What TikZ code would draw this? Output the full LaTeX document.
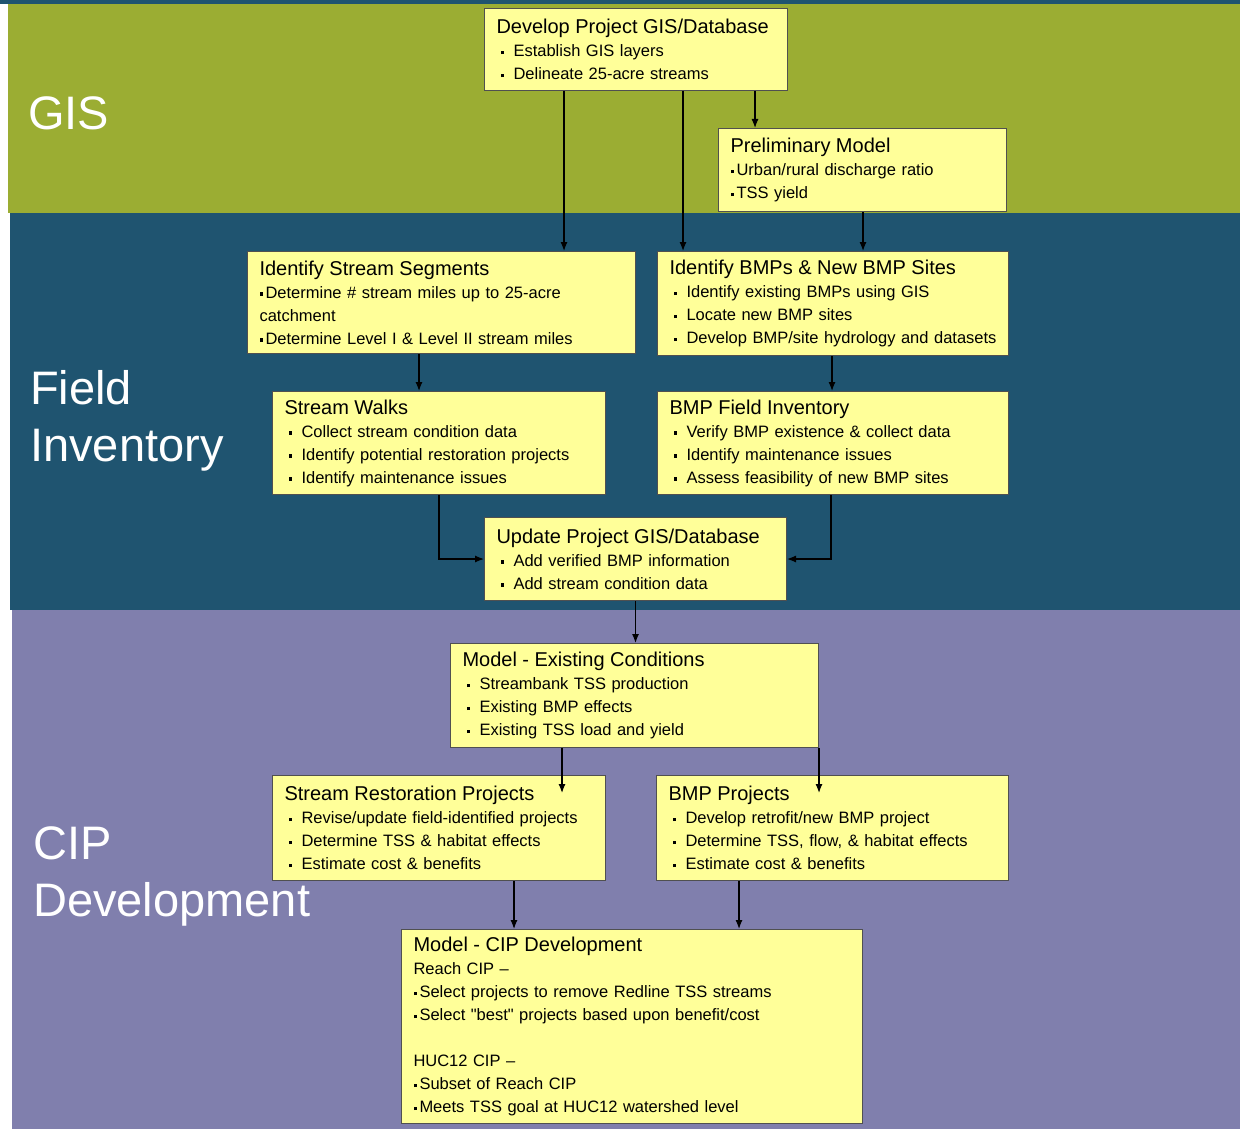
\documentclass[tikz,border=0pt]{standalone}
\usepackage{fontspec}
\setmainfont{Liberation Sans}
\usetikzlibrary{arrows.meta}

\definecolor{gisgreen}{HTML}{9BAD33}
\definecolor{fieldteal}{HTML}{1F5470}
\definecolor{cippurple}{HTML}{807FAD}
\definecolor{boxfill}{HTML}{FFFF99}
\definecolor{boxline}{HTML}{505050}

\newcommand{\sqmark}{\rule[2.5pt]{3pt}{3.5pt}}
\newcommand{\bul}{\hspace*{4pt}\sqmark\hspace{10pt}}
\newcommand{\tbul}{\sqmark\hspace{3pt}}
\newcommand{\ttl}[1]{{\fontsize{20}{23}\selectfont #1}}

\begin{document}
\begin{tikzpicture}[x=1pt,y=-1pt,
    box/.style={draw=boxline, line width=1pt, fill=boxfill, anchor=north west,
      inner xsep=12pt, inner ysep=4pt, align=left, font=\fontsize{16.5}{23}\selectfont},
    band/.style={text=white, anchor=north west, inner sep=0pt, align=left,
      font=\fontsize{47}{57}\selectfont},
    arr/.style={line width=1.2pt, -{Latex[length=9pt,width=7pt]}}]

  % Bands
  \useasboundingbox (0,0) rectangle (1240,1129);
  \fill[white] (0,0) rectangle (1240,1129);
  \fill[fieldteal] (0,0) rectangle (1240,4);
  \fill[gisgreen] (8,4) rectangle (1240,213);
  \fill[fieldteal] (10,213) rectangle (1240,610);
  \fill[cippurple] (12,610) rectangle (1240,1129);

  % Band labels
  \node[band] (lgis) at (28,96) {GIS};
  \node[band] (lfield) at (30,370) {Field\\Inventory};
  \node[band] (lcip) at (33,826) {CIP\\Development};

  % GIS boxes
  \node[box, text width=279pt, minimum height=82pt] (dev) at (484,8)
    {\ttl{Develop Project GIS/Database}\\
     \bul Establish GIS layers\\
     \bul Delineate 25-acre streams};
  \node[box, text width=264pt, minimum height=83pt] (prelim) at (718,128)
    {\ttl{Preliminary Model}\\
     \tbul Urban/rural discharge ratio\\
     \tbul TSS yield};

  % Field inventory boxes
  \node[box, text width=364pt, minimum height=102pt] (segs) at (247,251)
    {\ttl{Identify Stream Segments}\\
     \tbul Determine \# stream miles up to 25-acre\\
     catchment\\
     \tbul Determine Level I \& Level II stream miles};
  \node[box, text width=327pt, minimum height=104pt] (bmps) at (657,251)
    {\ttl{Identify BMPs \& New BMP Sites}\\
     \bul Identify existing BMPs using GIS\\
     \bul Locate new BMP sites\\
     \bul Develop BMP/site hydrology and datasets};
  \node[box, text width=309pt, minimum height=103pt] (walks) at (272,391)
    {\ttl{Stream Walks}\\
     \bul Collect stream condition data\\
     \bul Identify potential restoration projects\\
     \bul Identify maintenance issues};
  \node[box, text width=327pt, minimum height=103pt] (bmpinv) at (657,391)
    {\ttl{BMP Field Inventory}\\
     \bul Verify BMP existence \& collect data\\
     \bul Identify maintenance issues\\
     \bul Assess feasibility of new BMP sites};
  \node[box, text width=278pt, minimum height=83pt] (update) at (484,517)
    {\ttl{Update Project GIS/Database}\\
     \bul Add verified BMP information\\
     \bul Add stream condition data};

  % CIP boxes
  \node[box, text width=344pt, minimum height=104pt] (exist) at (450,643)
    {\ttl{Model - Existing Conditions}\\
     \bul Streambank TSS production\\
     \bul Existing BMP effects\\
     \bul Existing TSS load and yield};
  \node[box, text width=309pt, minimum height=105pt] (restor) at (272,775)
    {\ttl{Stream Restoration Projects}\\
     \bul Revise/update field-identified projects\\
     \bul Determine TSS \& habitat effects\\
     \bul Estimate cost \& benefits};
  \node[box, text width=328pt, minimum height=105pt] (bmpproj) at (656,775)
    {\ttl{BMP Projects}\\
     \bul Develop retrofit/new BMP project\\
     \bul Determine TSS, flow, \& habitat effects\\
     \bul Estimate cost \& benefits};
  \node[box, text width=437pt, minimum height=194pt] (cip) at (401,929)
    {\ttl{Model - CIP Development}\\
     Reach CIP \textendash\\
     \tbul Select projects to remove Redline TSS streams\\
     \tbul Select \textquotedbl best\textquotedbl\ projects based upon benefit/cost\\[23pt]
     HUC12 CIP \textendash\\
     \tbul Subset of Reach CIP\\
     \tbul Meets TSS goal at HUC12 watershed level};

  % Connector points
  \coordinate (d1) at ([xshift=80pt]dev.south west);
  \coordinate (d2) at ([xshift=199pt]dev.south west);
  \coordinate (d3) at ([xshift=271pt]dev.south west);
  \coordinate (p1) at ([xshift=145pt]prelim.south west);
  \coordinate (s1) at ([xshift=172pt]segs.south west);
  \coordinate (b1) at ([xshift=175pt]bmps.south west);
  \coordinate (w1) at ([xshift=167pt]walks.south west);
  \coordinate (v1) at ([xshift=174pt]bmpinv.south west);
  \coordinate (e1) at ([xshift=112pt]exist.south west);
  \coordinate (e1end) at (e1 |- restor.north);
  \coordinate (e2end) at (exist.south east |- bmpproj.north);
  \coordinate (r1) at ([xshift=242pt]restor.south west);
  \coordinate (m1) at ([xshift=83pt]bmpproj.south west);

  % Connectors
  \draw[arr] (d1) -- (d1 |- segs.north);
  \draw[arr] (d2) -- (d2 |- bmps.north);
  \draw[arr] (d3) -- (d3 |- prelim.north);
  \draw[arr] (p1) -- (p1 |- bmps.north);
  \draw[arr] (s1) -- (s1 |- walks.north);
  \draw[arr] (b1) -- (b1 |- bmpinv.north);
  \draw[arr] (w1) |- (update.west);
  \draw[arr] (v1) |- (update.east);
  \draw[arr] (update.south) -- (update.south |- exist.north);
  \draw[arr] (e1) -- ([yshift=-18pt]e1end);
  \draw[arr] (exist.south east) -- ([yshift=-18pt]e2end);
  \draw[arr] (r1) -- (r1 |- cip.north);
  \draw[arr] (m1) -- (m1 |- cip.north);
\end{tikzpicture}
\end{document}
